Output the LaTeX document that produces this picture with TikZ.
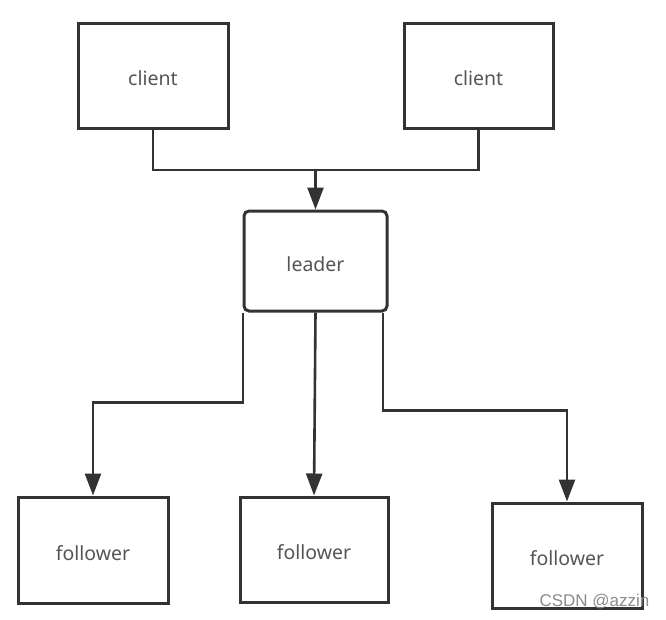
\documentclass[tikz,border=0pt]{standalone}
\usepackage{fontspec}
\setmainfont{Noto Sans}
\newfontfamily\wmfont{Liberation Sans}
\usetikzlibrary{arrows.meta}
\definecolor{linec}{HTML}{333333}
\definecolor{textc}{HTML}{555555}
\newcommand{\lowtext}[1]{\raisebox{-3pt}[\height][\depth]{#1}}
\begin{document}
\begin{tikzpicture}[x=1pt,y=-1pt,
  box/.style={draw=linec,line width=3pt,fill=white,inner sep=0pt,text=textc,font=\fontsize{19.5}{21}\selectfont},
  conn/.style={draw=linec,line width=2.6pt},
  arr/.style={conn,-{Triangle[length=22pt,width=16pt]}}]
\useasboundingbox (0,0) rectangle (666,619);
\node[box,minimum width=150pt,minimum height=105pt] (c1) at (153,75.5) {\lowtext{client}};
\node[box,minimum width=149pt,minimum height=105pt] (c2) at (478.5,75.5) {\lowtext{client}};
\node[box,rounded corners=5pt,minimum width=143pt,minimum height=100pt] (ld) at (315.5,261) {\lowtext{leader}};
\node[box,minimum width=150pt,minimum height=106pt] (f1) at (93,550) {\lowtext{follower}};
\node[box,minimum width=148pt,minimum height=105pt] (f2) at (314,549.5) {\lowtext{follower}};
\node[box,minimum width=150pt,minimum height=105pt] (f3) at (567,555.5) {\lowtext{follower}};
\coordinate (j) at (315.5,170);
\draw[conn] (c1.south) |- (j) -| (c2.south);
\draw[arr] (j) -- (ld.north);
\draw[arr] ([xshift=0.5pt]ld.south west) -- ++(0,90) -| (f1.north);
\draw[arr] (ld.south) -- (f2.north);
\draw[arr] ([xshift=-5.5pt]ld.south east) -- ++(0,98) -| (f3.north);
\node[font=\wmfont\fontsize{17}{19}\selectfont,text=black!45,inner sep=0pt] (wm) at (594.5,602) {CSDN @azzin};
\end{tikzpicture}
\end{document}
